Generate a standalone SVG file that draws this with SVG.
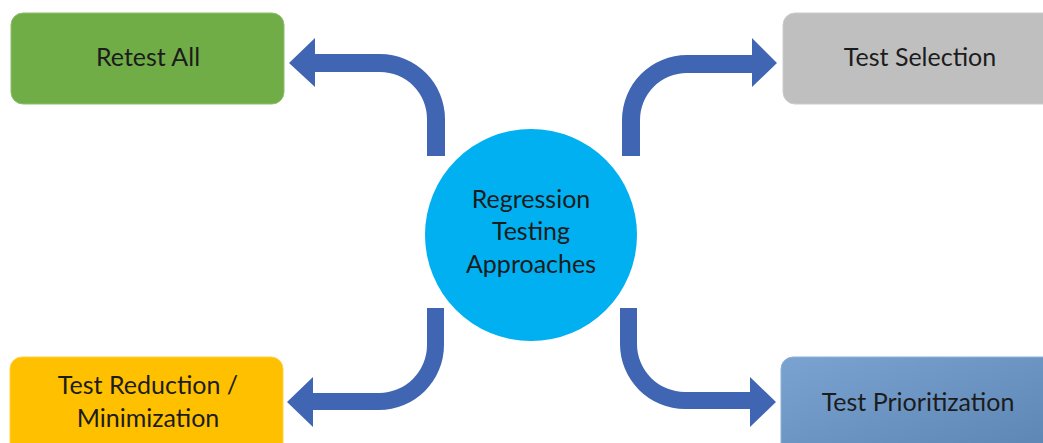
<svg xmlns="http://www.w3.org/2000/svg" width="1043" height="443" viewBox="0 0 1043 443">
<defs>
<linearGradient id="gPri" x1="0" y1="0" x2="1" y2="1">
<stop offset="0" stop-color="#7AA3D1"/>
<stop offset="1" stop-color="#5C84B3"/>
</linearGradient>
<style>
.lbl{font-family:Lato,"Open Sans","Liberation Sans",sans-serif;font-size:25px;fill:#1c1c1c;text-anchor:middle}
.arrow{fill:#4066B3}
</style>
</defs>
<rect width="1043" height="443" fill="#ffffff"/>
<g id="connectors">
<path class="arrow" d="M 427 156 L 427 119 A 47 47 0 0 0 380 72 L 315 72 L 315 87 L 289 63 L 315 38 L 315 54 L 380 54 A 65 65 0 0 1 445 119 L 445 156 Z"/>
<path class="arrow" d="M 622 156 L 622 120 A 65 65 0 0 1 687 55 L 752 55 L 752 38 L 777 63 L 752 87 L 752 73 L 687 73 A 47 47 0 0 0 640 120 L 640 156 Z"/>
<path class="arrow" d="M 427 308 L 427 345 A 48 48 0 0 1 379 393 L 313 393 L 313 377 L 287 402 L 313 427 L 313 410 L 379 410 A 65 65 0 0 0 444 345 L 444 308 Z"/>
<path class="arrow" d="M 620 308 L 620 344 A 65 65 0 0 0 685 409 L 750 409 L 750 427 L 776 402 L 750 377 L 750 392 L 685 392 A 48 48 0 0 1 637 344 L 637 308 Z"/>
</g>
<g id="center">
<circle cx="531" cy="235" r="106" fill="#00B0F0"/>
<text class="lbl" x="531" y="208">Regression</text>
<text class="lbl" x="531" y="240">Testing</text>
<text class="lbl" x="531" y="273">Approaches</text>
</g>
<g id="retest-all">
<rect x="11" y="13" width="273" height="91" rx="12" fill="#70AD47" stroke="#8DBE6C" stroke-width="1"/>
<text class="lbl" x="148" y="66">Retest All</text>
</g>
<g id="test-selection">
<rect x="783" y="13" width="275" height="91" rx="12" fill="#BFBFBF" stroke="#CCCCCC" stroke-width="1"/>
<text class="lbl" x="920" y="66">Test Selection</text>
</g>
<g id="test-reduction">
<rect x="10" y="357" width="273" height="100" rx="12" fill="#FFC000" stroke="#FFCF40" stroke-width="1"/>
<text class="lbl" x="148" y="394">Test Reduction /</text>
<text class="lbl" x="148" y="427">Minimization</text>
</g>
<g id="test-prioritization">
<rect x="781" y="357" width="277" height="100" rx="12" fill="url(#gPri)" stroke="#8DB0D8" stroke-width="1"/>
<text class="lbl" x="918" y="411">Test Prioritization</text>
</g>
</svg>
